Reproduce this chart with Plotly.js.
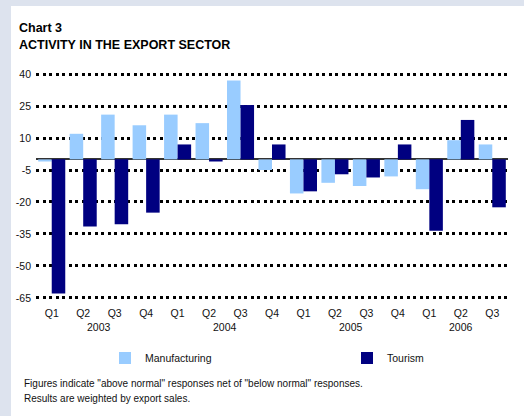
<!DOCTYPE html>
<html>
<head>
<meta charset="utf-8">
<script src="https://cdn.plot.ly/plotly-3.0.1.min.js"></script>
<style>
html,body{margin:0;padding:0;background:#dde3ee;width:524px;height:416px;overflow:hidden;}
#chart{position:absolute;left:11px;top:6px;width:513px;height:410px;background:#fff;}
</style>
</head>
<body>
<div id="chart"></div>
<script>
var years = ['2003','2003','2003','2003','2004','2004','2004','2004','2005','2005','2005','2005','2006','2006','2006'];
var quarters = ['Q1','Q2','Q3','Q4','Q1','Q2','Q3','Q4','Q1','Q2','Q3','Q4','Q1','Q2','Q3'];
var manufacturing = [-1, 12, 21, 16, 21, 17, 37, -5, -16, -11, -12.5, -8, -14, 9, 7];
var tourism = [-63, -31.5, -30.5, -25, 7, -1, 25.5, 7, -15, -7, -8.5, 7, -33.5, 18.5, -22.5];
var yTicks = [40, 25, 10, -5, -20, -35, -50, -65];

var FONT = 'Liberation Sans, Arial, Helvetica, sans-serif';

// category positions (index of each quarter)
var xIdx = quarters.map(function(q, i){ return i; });

// year labels centred under their quarters
var yearNames = years.filter(function(y, i){ return years.indexOf(y) === i; });
var yearCenters = yearNames.map(function(y){
  var idx = xIdx.filter(function(i){ return years[i] === y; });
  return idx.reduce(function(a,b){return a+b;},0) / idx.length;
});

var traces = [
  {type:'bar', name:'Manufacturing', x:xIdx, y:manufacturing, legend:'legend',
   marker:{color:'#99ccff', line:{width:0}}, hoverinfo:'skip'},
  {type:'bar', name:'Tourism', x:xIdx, y:tourism, legend:'legend2',
   marker:{color:'#000080', line:{width:0}}, hoverinfo:'skip'}
];

var legendStyle = function(xpx){
  return {orientation:'h', x:(xpx-25)/472, xanchor:'left', y:-58/228, yanchor:'middle',
          itemwidth:30, bgcolor:'rgba(0,0,0,0)',
          font:{family:FONT, size:10.5, color:'#111'}};
};

var annotations = [
  {text:'<b>ACTIVITY IN THE EXPORT SECTOR</b>', xref:'paper', yref:'paper',
   x:-19/472, y:1+(66-39)/228, xanchor:'left', yanchor:'middle', showarrow:false,
   font:{family:FONT, size:12.5, color:'#000'}},
  {text:'Figures indicate "above normal" responses net of "below normal" responses.',
   xref:'paper', yref:'paper', x:-14/472, y:-(377-294)/228, xanchor:'left', yanchor:'middle',
   showarrow:false, font:{family:FONT, size:10, color:'#111'}},
  {text:'Results are weighted by export sales.',
   xref:'paper', yref:'paper', x:-14/472, y:-(392-294)/228, xanchor:'left', yanchor:'middle',
   showarrow:false, font:{family:FONT, size:10, color:'#111'}}
];
yearNames.forEach(function(y, k){
  annotations.push({text:y, xref:'x', yref:'paper', x:yearCenters[k], y:-(321-294)/228,
    xanchor:'center', yanchor:'middle', showarrow:false,
    font:{family:FONT, size:10.5, color:'#111'}});
});

var layout = {
  width:513, height:410,
  paper_bgcolor:'#ffffff', plot_bgcolor:'#ffffff',
  margin:{l:25, r:16, t:66, b:116, pad:0},
  barmode:'group', bargap:0.14, bargroupgap:0,
  font:{family:FONT, size:10.5, color:'#111'},
  title:{text:'<b>Chart 3</b>', x:8/513, xref:'container', xanchor:'left',
         y:1-22/410, yref:'container', yanchor:'middle',
         font:{family:FONT, size:12.5, color:'#000'}},
  xaxis:{type:'linear', range:[-0.5,14.5], tickvals:xIdx, ticktext:quarters,
         showgrid:false, zeroline:false, showline:false, ticks:'', ticklabelstandoff:5,
         tickfont:{family:FONT, size:10.5, color:'#111'}},
  yaxis:{range:[-66,41], tickvals:yTicks, ticktext:yTicks.map(String),
         showgrid:true, gridcolor:'#000', gridwidth:3, griddash:'3px,3.5px',
         zeroline:true, zerolinecolor:'#333', zerolinewidth:2,
         showline:false, ticks:'', ticklabelstandoff:4,
         tickfont:{family:FONT, size:10.5, color:'#111'}},
  showlegend:true,
  legend:legendStyle(94),
  legend2:legendStyle(94+242),
  annotations:annotations
};

Plotly.newPlot('chart', traces, layout, {displayModeBar:false, staticPlot:true});
</script>
</body>
</html>
